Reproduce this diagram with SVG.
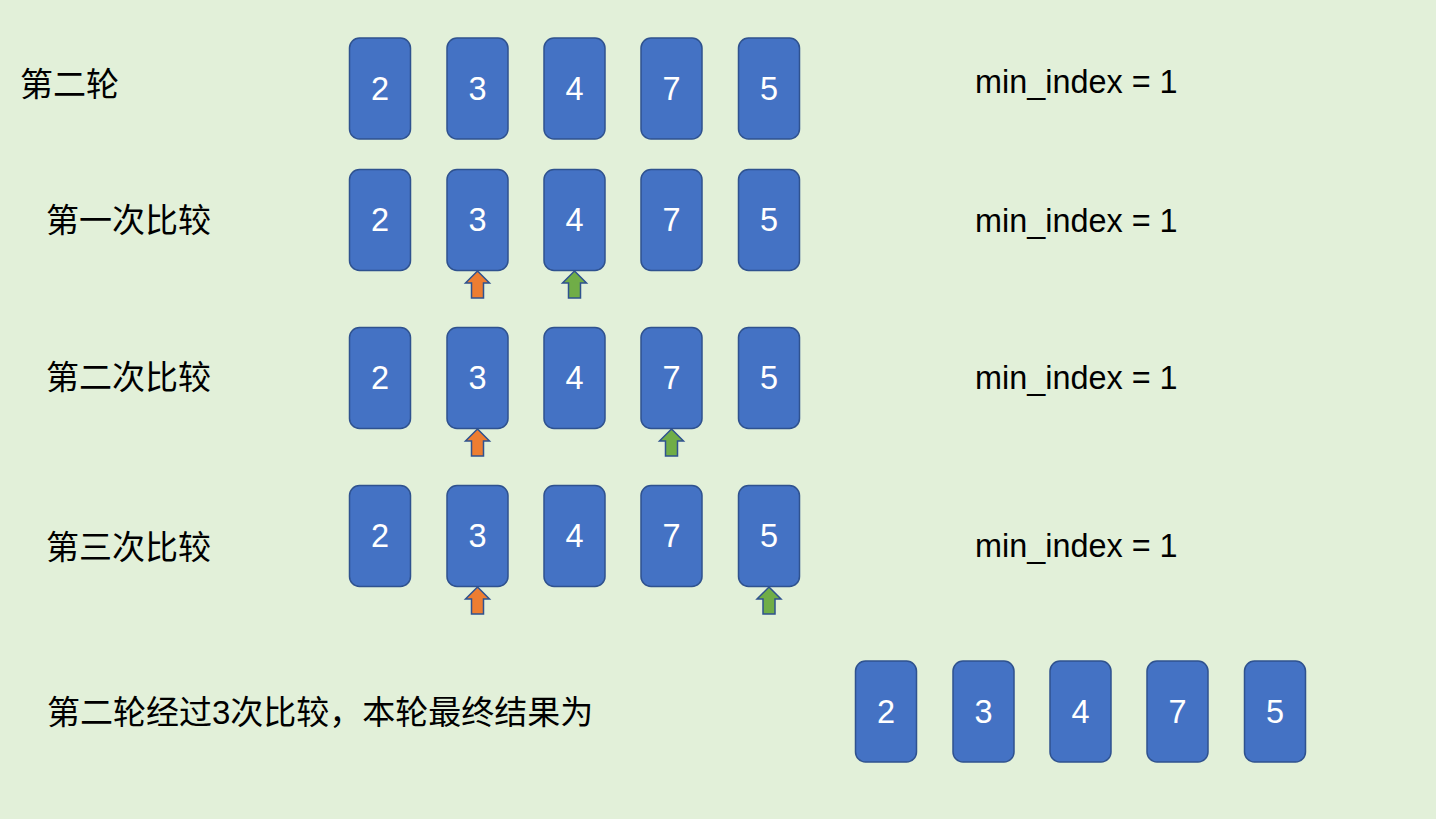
<svg xmlns="http://www.w3.org/2000/svg" width="1436" height="819" viewBox="0 0 1436 819">
<style>
.card{fill:#4472C4;stroke:#2F528F;stroke-width:1.5}
.num{fill:#FFFFFF;font-family:"Liberation Sans",Arial,sans-serif;font-size:32.5px;text-anchor:middle}
.lbl{fill:#000000;font-family:"Liberation Sans","Noto Sans CJK SC",sans-serif;font-size:33px}
.mi{fill:#000000;font-family:"Liberation Sans",Arial,sans-serif;font-size:32.4px}
.orange{fill:#ED7D31;stroke:#2F528F;stroke-width:1.5}
.green{fill:#70AD47;stroke:#2F528F;stroke-width:1.5}
</style>
<defs>
<g id="card"><rect x="0" y="0" width="61" height="101" rx="10" ry="10" class="card"/></g>
<polygon id="arrow" points="0,0 12,12 6,12 6,27 -6,27 -6,12 -12,12"/>
</defs>
<rect x="0" y="0" width="1436" height="819" fill="#E2F0D9"/>

<g id="labels">
<text class="lbl" x="20" y="96">第二轮</text>
<text class="lbl" x="46" y="232">第一次比较</text>
<text class="lbl" x="46" y="389">第二次比较</text>
<text class="lbl" x="46" y="559">第三次比较</text>
<text class="lbl" x="47" y="724">第二轮经过3次比较，本轮最终结果为</text>
<text class="mi" x="975" y="93">min_index = 1</text>
<text class="mi" x="975" y="232">min_index = 1</text>
<text class="mi" x="975" y="389">min_index = 1</text>
<text class="mi" x="975" y="557">min_index = 1</text>
</g>

<g id="row1">
<g id="r1c1"><use href="#card" x="349.5" y="38"/><text class="num" x="380" y="100">2</text></g>
<g id="r1c2"><use href="#card" x="447" y="38"/><text class="num" x="477.5" y="100">3</text></g>
<g id="r1c3"><use href="#card" x="544" y="38"/><text class="num" x="574.5" y="100">4</text></g>
<g id="r1c4"><use href="#card" x="641" y="38"/><text class="num" x="671.5" y="100">7</text></g>
<g id="r1c5"><use href="#card" x="738.5" y="38"/><text class="num" x="769" y="100">5</text></g>
</g>

<g id="row2">
<g id="r2c1"><use href="#card" x="349.5" y="169.5"/><text class="num" x="380" y="231">2</text></g>
<g id="r2c2"><use href="#card" x="447" y="169.5"/><text class="num" x="477.5" y="231">3</text></g>
<g id="r2c3"><use href="#card" x="544" y="169.5"/><text class="num" x="574.5" y="231">4</text></g>
<g id="r2c4"><use href="#card" x="641" y="169.5"/><text class="num" x="671.5" y="231">7</text></g>
<g id="r2c5"><use href="#card" x="738.5" y="169.5"/><text class="num" x="769" y="231">5</text></g>
</g>

<g id="row3">
<g id="r3c1"><use href="#card" x="349.5" y="327.5"/><text class="num" x="380" y="389">2</text></g>
<g id="r3c2"><use href="#card" x="447" y="327.5"/><text class="num" x="477.5" y="389">3</text></g>
<g id="r3c3"><use href="#card" x="544" y="327.5"/><text class="num" x="574.5" y="389">4</text></g>
<g id="r3c4"><use href="#card" x="641" y="327.5"/><text class="num" x="671.5" y="389">7</text></g>
<g id="r3c5"><use href="#card" x="738.5" y="327.5"/><text class="num" x="769" y="389">5</text></g>
</g>

<g id="row4">
<g id="r4c1"><use href="#card" x="349.5" y="485.5"/><text class="num" x="380" y="547">2</text></g>
<g id="r4c2"><use href="#card" x="447" y="485.5"/><text class="num" x="477.5" y="547">3</text></g>
<g id="r4c3"><use href="#card" x="544" y="485.5"/><text class="num" x="574.5" y="547">4</text></g>
<g id="r4c4"><use href="#card" x="641" y="485.5"/><text class="num" x="671.5" y="547">7</text></g>
<g id="r4c5"><use href="#card" x="738.5" y="485.5"/><text class="num" x="769" y="547">5</text></g>
</g>

<g id="result">
<g id="r5c1"><use href="#card" x="855.5" y="661"/><text class="num" x="886" y="722.5">2</text></g>
<g id="r5c2"><use href="#card" x="953" y="661"/><text class="num" x="983.5" y="722.5">3</text></g>
<g id="r5c3"><use href="#card" x="1050" y="661"/><text class="num" x="1080.5" y="722.5">4</text></g>
<g id="r5c4"><use href="#card" x="1147" y="661"/><text class="num" x="1177.5" y="722.5">7</text></g>
<g id="r5c5"><use href="#card" x="1244.5" y="661"/><text class="num" x="1275" y="722.5">5</text></g>
</g>

<g id="pointers">
<use href="#arrow" class="orange" x="477.5" y="271"/>
<use href="#arrow" class="green" x="574.5" y="271"/>
<use href="#arrow" class="orange" x="477.5" y="429"/>
<use href="#arrow" class="green" x="671.5" y="429"/>
<use href="#arrow" class="orange" x="477.5" y="587"/>
<use href="#arrow" class="green" x="769" y="587"/>
</g>
</svg>
